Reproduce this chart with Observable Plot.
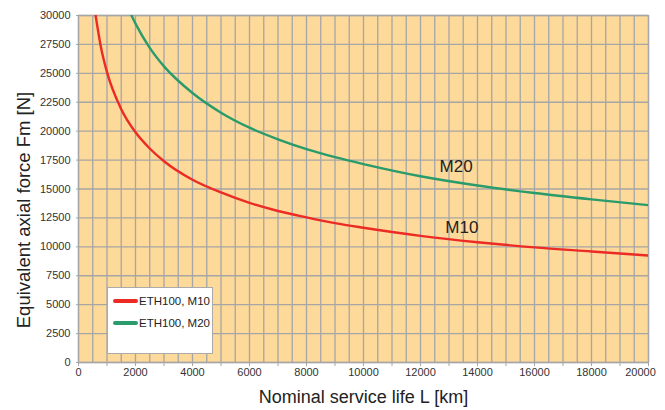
<!DOCTYPE html>
<html>
<head>
<meta charset="utf-8">
<script src="https://cdn.jsdelivr.net/npm/d3@7"></script>
<script src="https://cdn.jsdelivr.net/npm/@observablehq/plot@0.6"></script>
<style>
  html, body { margin: 0; padding: 0; background: #fff; }
  #wrap { position: relative; width: 665px; height: 410px; font-family: Arial, "Liberation Sans", Helvetica, sans-serif; }
  #legend { position: absolute; left: 107px; top: 287px; width: 106px; height: 67px; background: #fff; border: 1px solid #aaa; box-sizing: border-box; }
  .lg { position: absolute; left: 5px; display: flex; align-items: center; font-size: 11.5px; color: #222; }
  .sw { width: 25px; height: 4px; border-radius: 2px; margin-right: 1px; }
</style>
</head>
<body>
<div id="wrap"></div>
<script>
// Nominal service life L [km]
const lifeM10 = [600, 800, 1000, 1500, 2000, 2500, 3000, 4000, 5000, 6000, 7000, 8000, 9000, 10000, 12000, 14000, 16000, 18000, 20000];
// Equivalent axial force Fm [N], ETH100 M10
const forceM10 = [30000, 27100, 25100, 21900, 19900, 18500, 17400, 15800, 14700, 13800, 13100, 12550, 12050, 11650, 10950, 10400, 9950, 9600, 9250];
const lifeM20 = [1860, 2000, 2500, 3000, 4000, 5000, 6000, 7000, 8000, 9000, 10000, 12000, 14000, 16000, 18000, 20000];
// Equivalent axial force Fm [N], ETH100 M20
const forceM20 = [30000, 29300, 27200, 25600, 23300, 21600, 20300, 19300, 18450, 17750, 17150, 16100, 15300, 14650, 14100, 13600];

const seriesNames = ["ETH100, M10", "ETH100, M20"];
const seriesColors = ["#EC2B24", "#2A9B6B"];
const curveLabels = ["M10", "M20"];
const curveLabelL = [13450, 13250];
const curveLabelF = [11700, 16950];

const xTicksLabel = [0, 2000, 4000, 6000, 8000, 10000, 12000, 14000, 16000, 18000];
const xTickLast = [20000];
const xTicksMinor = d3.range(0, 20001, 1000);
const xGrid = d3.range(0, 20001, 500);
const yTicks = d3.range(0, 30001, 2500);

const xLabel = "Nominal service life L [km]";
const yLabel = "Equivalent axial force Fm [N]";

const data = [
  ...lifeM10.map((L, i) => ({L, F: forceM10[i], s: seriesNames[0]})),
  ...lifeM20.map((L, i) => ({L, F: forceM20[i], s: seriesNames[1]}))
];
const labels = curveLabels.map((t, i) => ({t, L: curveLabelL[i], F: curveLabelF[i]}));

const chart = Plot.plot({
  width: 665,
  height: 410,
  marginLeft: 78,
  marginRight: 17,
  marginTop: 15,
  marginBottom: 48,
  style: {fontFamily: "Arial, 'Liberation Sans', Helvetica, sans-serif", background: "#fff", overflow: "visible"},
  x: {domain: [0, 20000]},
  y: {domain: [0, 30000]},
  color: {domain: seriesNames, range: seriesColors},
  marks: [
    Plot.frame({fill: "#FDD99A", stroke: null}),
    Plot.gridX(xGrid, {stroke: "#a6a6a6", strokeOpacity: 1, strokeWidth: 1.3}),
    Plot.gridY(yTicks, {stroke: "#a6a6a6", strokeOpacity: 1, strokeWidth: 1.3}),
    Plot.frame({stroke: "#a6a6a6", strokeWidth: 1.3}),
    Plot.line(data, {x: "L", y: "F", z: "s", stroke: "s", strokeWidth: 2.4, curve: "monotone-x", clip: true}),
    Plot.text(labels, {x: "L", y: "F", text: "t", fontSize: 17, fill: "#222"}),
    Plot.axisX(xTicksMinor, {tickSize: 4, tickFormat: () => "", stroke: "#a6a6a6", label: null}),
    Plot.axisX(xTicksLabel, {tickSize: 0, tickPadding: 6, tickFormat: d => String(d), fontSize: 11, fill: "#333", label: null}),
    Plot.axisX(xTickLast, {tickSize: 0, tickPadding: 6, tickFormat: d => String(d), fontSize: 11, fill: "#333", dx: -8, label: null}),
    Plot.axisY(yTicks, {tickSize: 2, tickPadding: 6, tickFormat: d => String(d), fontSize: 11, fill: "#333", stroke: "#a6a6a6", label: null}),
    Plot.text([xLabel], {frameAnchor: "bottom", textAnchor: "middle", lineAnchor: "middle", dy: 35, fontSize: 18, fill: "#222"}),
    Plot.text([yLabel], {frameAnchor: "left", textAnchor: "middle", lineAnchor: "middle", dx: -54, dy: 21, rotate: -90, fontSize: 18.5, fill: "#222"})
  ]
});

const wrap = document.getElementById("wrap");
wrap.appendChild(chart);

const legend = document.createElement("div");
legend.id = "legend";
seriesNames.forEach((name, i) => {
  const row = document.createElement("div");
  row.className = "lg";
  row.style.top = (7 + i * 22) + "px";
  const sw = document.createElement("div");
  sw.className = "sw";
  sw.style.background = seriesColors[i];
  const tx = document.createElement("span");
  tx.textContent = name;
  row.appendChild(sw);
  row.appendChild(tx);
  legend.appendChild(row);
});
wrap.appendChild(legend);
</script>
</body>
</html>
